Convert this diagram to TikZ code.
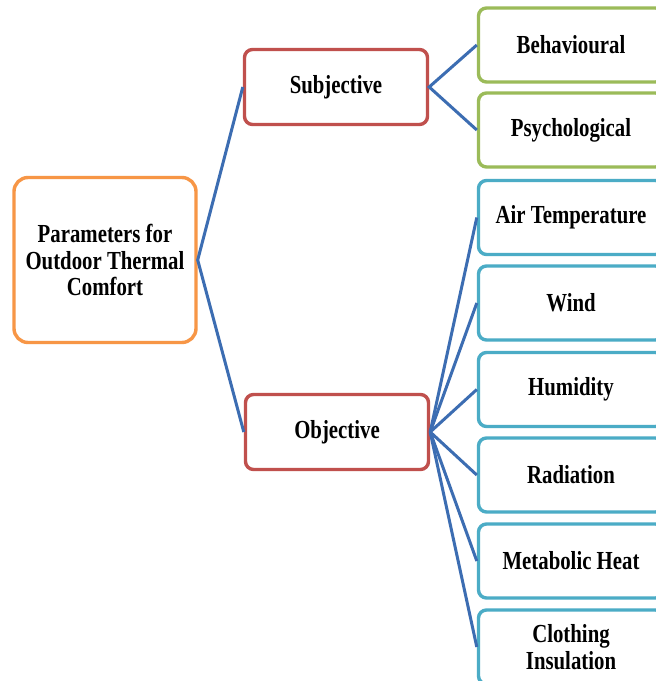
\documentclass[tikz,border=0pt]{standalone}
\usepackage{fontspec}
\setmainfont[FakeStretch=0.8]{Liberation Serif}
\definecolor{orangeb}{HTML}{F79646}
\definecolor{redb}{HTML}{C0504D}
\definecolor{greenb}{HTML}{9BBB59}
\definecolor{tealb}{HTML}{4BACC6}
\definecolor{linkb}{HTML}{3C6DB2}
\tikzset{
  boxbase/.style={draw, fill=white, line width=3.4pt, rounded corners=8pt, align=center,
    font=\fontsize{26}{26.5}\selectfont\bfseries, inner sep=0pt},
  rootbox/.style={boxbase, draw=orangeb, minimum width=182pt, minimum height=165pt, rounded corners=14pt},
  midbox/.style={boxbase, draw=redb, minimum width=183pt, minimum height=75pt},
  greenbox/.style={boxbase, draw=greenb, minimum width=185pt, minimum height=74pt},
  tealbox/.style={boxbase, draw=tealb, minimum width=185pt, minimum height=74pt},
  link/.style={draw=linkb, line width=3pt}
}
\begin{document}
\begin{tikzpicture}[x=1pt,y=-1pt]
\useasboundingbox (0,0) rectangle (656,681);
\clip (0,0) rectangle (656,681);
\fill[white] (0,0) rectangle (656,681);
\node[rootbox] (root) at (105,260) {Parameters for\\Outdoor Thermal\\Comfort};
\node[midbox] (sub) at (336,87) {Subjective};
\node[midbox] (obj) at (337,432) {Objective};
\node[greenbox] (beh) at (571,45) {Behavioural};
\node[greenbox] (psy) at (571,130) {Psychological};
\node[tealbox] (air) at (571,217.5) {Air Temperature};
\node[tealbox] (wind) at (571,303) {Wind};
\node[tealbox] (hum) at (571,389.5) {Humidity};
\node[tealbox] (rad) at (571,475) {Radiation};
\node[tealbox] (met) at (571,561) {Metabolic Heat};
\node[tealbox] (clo) at (571,647) {Clothing\\Insulation};
\draw[link] (sub.west) -- (root.east) -- (obj.west);
\draw[link] (beh.west) -- (sub.east) -- (psy.west);
\foreach \t in {air,wind,hum,rad,met,clo}
  \draw[link] (obj.east) -- (\t.west);
\end{tikzpicture}
\end{document}
